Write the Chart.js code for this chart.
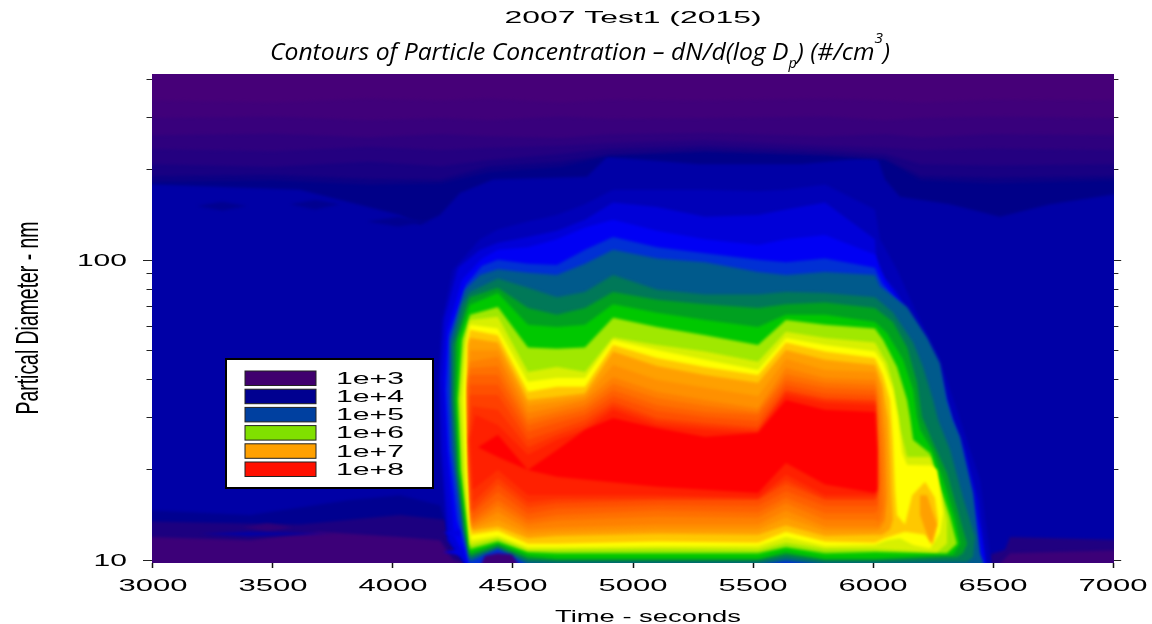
<!DOCTYPE html>
<html>
<head>
<meta charset="utf-8">
<title>2007 Test1 (2015)</title>
<script src="https://cdn.jsdelivr.net/npm/chart.js@4/dist/chart.umd.min.js"></script>
<style>
  body { margin: 0; background: #fff; }
  canvas { display: block; }
</style>
</head>
<body>
<canvas id="chart" width="1152" height="624"></canvas>
<script>
// Text
const titleLine = '2007 Test1 (2015)';
const subtitleParts = [
  ['Contours of Particle Concentration \u2013 dN/d(log D', 'body'],
  ['p', 'sub'],
  [') (#/cm', 'body'],
  ['3', 'sup'],
  [')', 'body']
];
const xAxisTitle = 'Time - seconds';
const yAxisTitle = 'Partical Diameter - nm';

// Axes
const xTicks = [3000, 3500, 4000, 4500, 5000, 5500, 6000, 6500, 7000];
const yTicks = [10, 20, 30, 40, 50, 60, 70, 80, 90, 100, 200, 300, 400];
const yLabelled = [10, 100];

// Legend
const legendLabels = ['1e+3', '1e+4', '1e+5', '1e+6', '1e+7', '1e+8'];
const legendColors = ['#40006e', '#000090', '#0040a0', '#80e000', '#ffa000', '#ff1000'];

// Background level of the whole field
const baseColor = '#0000a6';

// Dark ceiling of the plot: lower edge of each band, in nm
const navyTimes = [3000, 3612, 4029, 4112, 4196, 4279, 4417, 4808, 4892, 5279, 5696, 6017, 6050, 6112, 6321, 6529, 6738, 7000];
const navySizes = [178, 171, 141, 131, 141, 167, 185, 189, 220, 208, 208, 220, 185, 162, 153, 139, 153, 165];
const navyColor = '#000088';

const bandTimes = [3000, 3500, 3900, 4200, 4400, 4700, 4900, 5300, 5800, 6050, 6200, 6500, 7000];
const bandColors = ['#0c0084', '#180082', '#240080', '#2e007e', '#38007c', '#40007a', '#460078'];
const bandSizes = [
  [182, 184, 178, 180, 196, 204, 222, 228, 222, 215, 184, 180, 184],
  [190, 192, 186, 185, 205, 212, 225, 232, 225, 218, 190, 188, 190],
  [208, 204, 212, 205, 215, 225, 235, 240, 232, 225, 208, 206, 208],
  [234, 230, 238, 232, 236, 240, 245, 250, 240, 236, 232, 235, 232],
  [260, 263, 256, 262, 258, 255, 262, 265, 258, 262, 256, 262, 260],
  [297, 300, 292, 297, 292, 300, 295, 297, 300, 292, 297, 300, 297],
  [340, 335, 345, 340, 345, 335, 342, 340, 345, 340, 335, 342, 340]
];

// Low-count patches along the bottom edge, and a few blotches
const patchColors = ['#000090', '#1c0080', '#3c0078', '#200080', '#3c0078', '#000090', '#000090', '#000090', '#300078', '#0000a6'];
const patchTimes = [
  [2900, 3000, 3404, 3821, 4029, 4196, 4225, 4258, 4321, 4321, 2900],
  [2900, 3000, 3612, 4029, 4217, 4229, 4288, 4288, 2900],
  [2900, 3000, 3404, 3696, 4029, 4196, 4250, 4300, 4300, 2900],
  [6488, 6488, 6550, 6571, 7100, 7100],
  [6500, 6571, 7100, 7100],
  [3183, 3288, 3392, 3288],
  [3571, 3675, 3779, 3675],
  [3892, 4021, 4154, 4021],
  [3375, 3479, 3583, 3479],
  [3196, 3400, 3750, 3400]
];
const patchSizes = [
  [14.6, 14.6, 14.1, 15.8, 16.4, 15.2, 12.6, 11.2, 9.75, 9, 9],
  [13.4, 13.4, 13.1, 14.1, 13.6, 12.1, 10, 9, 9],
  [11.9, 11.9, 11.6, 12.4, 11.9, 11.6, 10, 9.75, 9, 9],
  [9.2, 10.4, 10.8, 11.9, 11.6, 9.2],
  [9.2, 10.5, 10.8, 9.2],
  [151, 156, 151, 146],
  [153, 158, 153, 147],
  [134, 139, 134, 129],
  [12.8, 13.2, 12.8, 12.4],
  [12.2, 12.4, 12.2, 12.0]
];

// Nested contour levels of the particle cloud, outermost first.
// Each level is walked round: wall (left side, bottom to top), ridge (top),
// edge (right side, top to bottom), floor (bottom, right to left).
const levelColors = [
  '#0000b8', '#0000d8', '#0000f4', '#0030d4', '#005a8c', '#007858', '#00a020', '#00c800', '#a0e800',
  '#d8f000', '#ffff00', '#ffc800', '#ffa000', '#ff9000', '#ff8000', '#ff7000', '#ff6000', '#ff5000',
  '#ff4000', '#ff3000', '#ff2000', '#ff0000'
];

const ridgeTimes = [4437, 4562, 4683, 4800, 4917, 5100, 5300, 5521, 5637, 5800, 6008];
const ridgeSizes = [
  [126, 134, 141, 153, 171, 171, 171, 169, 171, 178, 147],
  [114, 119, 125, 136, 155, 150, 139, 141, 147, 155, 117],
  [108, 110, 117, 128, 136, 125, 117, 112, 117, 121, 104],
  [100, 97, 96, 108, 119, 110, 105, 100, 98, 101, 94],
  [93, 90.5, 89, 97, 108, 101, 98, 91, 89, 91, 89],
  [86.5, 80.7, 75, 78, 89, 79.4, 76.5, 76.5, 78, 77.5, 75],
  [80.7, 69, 65.5, 69, 78, 73.6, 71, 69, 71, 72, 69],
  [77.5, 60.7, 59.7, 60.7, 71, 66.5, 63, 59.7, 65.5, 65.5, 62],
  [69.5, 51, 50.5, 51, 64, 59.7, 56, 52, 63, 60.7, 59],
  [64.5, 42.2, 43.9, 42.2, 55, 52, 49.4, 45.7, 57.5, 54.8, 53],
  [59, 39.2, 40.3, 40.3, 54, 50, 46.4, 42.9, 54.8, 52, 49.4],
  [56, 36.3, 37.7, 37.7, 52, 47, 43.9, 41.3, 53, 49.4, 47],
  [53, 34.1, 34.9, 35.9, 49.4, 44.2, 41.3, 38.9, 50, 46.4, 44.6],
  [49.9, 32.6, 33.6, 34.9, 44.6, 39.8, 37.4, 35.1, 46.7, 42.9, 42.2],
  [47.5, 30.9, 32.3, 34.1, 40.6, 36.3, 34.1, 32, 43.6, 40.3, 39.8],
  [44.2, 29.4, 31.1, 32.8, 38.6, 34.6, 32.6, 31.1, 41.6, 38.9, 38.3],
  [41.3, 28.1, 29.9, 31.6, 36.8, 32.8, 31.1, 30.4, 39.8, 37.4, 36.8],
  [38.3, 26.7, 28.6, 30.4, 35.1, 31.3, 29.9, 29, 38.3, 35.9, 35.4],
  [35.4, 25.1, 27.1, 29.2, 33.6, 29.7, 28.6, 27.7, 36.8, 34.6, 34.1],
  [31.6, 23.7, 26.1, 28.1, 32.6, 29, 27.9, 27.1, 36.3, 34.1, 33.6],
  [28.1, 22.4, 25.1, 27.1, 31.6, 28.1, 27.1, 26.5, 35.4, 33.3, 32.8],
  [26.1, 19.9, 23.2, 27.1, 29.7, 27.5, 25.7, 26.5, 34.1, 31.6, 31.1]
];

const floorTimes = [6008, 5800, 5637, 5521, 5100, 4683, 4562, 4437];
const floorSizes = [
  [9.2, 9.2, 9.2, 9.2, 9.2, 9.2, 9.2, 9.2],
  [9.2, 9.2, 9.2, 9.2, 9.2, 9.2, 9.2, 9.2],
  [9.2, 9.2, 9.2, 9.2, 9.2, 9.2, 9.2, 9.2],
  [9.2, 9.2, 9.2, 9.2, 9.2, 9.2, 9.2, 9.2],
  [9.6, 9.6, 9.9, 9.6, 9.6, 9.6, 9.6, 10.85],
  [9.75, 9.75, 10.1, 9.75, 9.75, 9.75, 9.85, 11],
  [10, 10, 10.4, 10, 10, 10, 10.1, 11.1],
  [10.1, 10.1, 10.6, 10.1, 10.1, 10.1, 10.3, 11.3],
  [10.6, 10.5, 11, 10.5, 10.5, 10.5, 10.6, 11.5],
  [10.85, 10.85, 11.4, 10.8, 10.85, 10.8, 10.8, 11.8],
  [11.2, 11.1, 11.9, 11.1, 11.1, 11, 11, 12],
  [11.4, 11.5, 12.4, 11.4, 11.5, 11.3, 11.3, 12.5],
  [12.1, 12, 13, 12.1, 12.2, 12, 11.8, 12.9],
  [12.5, 12.5, 13.8, 12.6, 12.6, 12.4, 12.2, 13.6],
  [12.9, 12.9, 14.6, 13.1, 13.1, 12.8, 12.6, 14.4],
  [13.6, 13.6, 15.4, 13.8, 13.9, 13.5, 13.1, 15.1],
  [14.3, 14.3, 16.1, 14.4, 14.6, 14.1, 13.6, 15.8],
  [15.1, 15.1, 16.9, 15.1, 15.2, 14.8, 14.2, 16.8],
  [15.8, 15.8, 17.8, 15.8, 15.8, 15.4, 14.9, 17.8],
  [16, 16, 18.4, 16, 16, 15.9, 15.5, 18.7],
  [16.4, 16.4, 19.2, 16.1, 16.4, 16.4, 16.4, 19.9],
  [16.7, 17.8, 21, 16.7, 17.5, 18.9, 19.9, 22]
];

const wallTimes = [
  [4321, 4225, 4196, 4188, 4204, 4250, 4363],
  [4321, 4233, 4204, 4196, 4213, 4271, 4363],
  [4321, 4254, 4225, 4213, 4225, 4288, 4371],
  [4321, 4267, 4233, 4221, 4233, 4304, 4371],
  [4321, 4288, 4246, 4238, 4238, 4300, 4363],
  [4321, 4296, 4263, 4246, 4246, 4288, 4321],
  [4321, 4300, 4271, 4254, 4258, 4300, 4321],
  [4321, 4304, 4275, 4263, 4271, 4321],
  [4321, 4313, 4283, 4271, 4288, 4321],
  [4321, 4292, 4279, 4300, 4321],
  [4325, 4304, 4292, 4304, 4321],
  [4325, 4313, 4304, 4313, 4321],
  [4329, 4321, 4313, 4313, 4321],
  [4329, 4317, 4313, 4321],
  [4329, 4317, 4313, 4321],
  [4329, 4317, 4313, 4321],
  [4329, 4317, 4313, 4321],
  [4329, 4317, 4321],
  [4329, 4317, 4321],
  [4333, 4319, 4330],
  [4333, 4321, 4342],
  [4354]
];
const wallSizes = [
  [9.2, 11.6, 23.2, 39.8, 63, 92.6, 117],
  [9.2, 11.6, 23.2, 39.8, 63, 94, 108],
  [9.2, 12.1, 23.2, 39.8, 58.4, 85.8, 101],
  [9.4, 13.6, 23.2, 36.8, 56.2, 82.5, 95.5],
  [9.85, 12.6, 23.2, 34.1, 54.1, 79.4, 89],
  [10.1, 12.6, 19.9, 34.1, 52, 70.8, 78],
  [10.3, 12.6, 19.9, 34.1, 52, 68.1, 75],
  [10.5, 12.6, 19.9, 34.1, 54.1, 70.8],
  [10.85, 12.6, 19.9, 34.1, 54.1, 65.5],
  [11.2, 19.9, 34.1, 54.1, 63],
  [11.6, 18.4, 34.1, 52, 60.7],
  [12.1, 18.4, 34.1, 54.1, 58.4],
  [12.5, 19.9, 34.1, 52, 54.8],
  [12.7, 19.9, 36.8, 49.9],
  [12.9, 19.9, 39.8, 45.7],
  [13.2, 20.7, 38.3, 43.5],
  [13.6, 21.5, 36.8, 41.3],
  [14.2, 23, 38.3],
  [14.6, 25.1, 35.4],
  [15.5, 25.1, 32.5],
  [17.1, 25.1, 30.4],
  [23.7]
];

const edgeTimes = [
  [6029, 6100, 6175, 6279, 6363, 6446, 6496],
  [6017, 6092, 6217, 6300, 6383, 6438, 6475],
  [6050, 6175, 6279, 6342, 6404, 6446, 6471],
  [6038, 6133, 6217, 6271, 6300, 6325, 6354, 6408, 6438, 6454],
  [6029, 6142, 6225, 6279, 6308, 6333, 6363, 6417, 6446, 6463],
  [6083, 6167, 6208, 6250, 6271, 6321, 6375, 6425, 6417, 6392],
  [6083, 6142, 6183, 6204, 6250, 6308, 6363, 6392, 6375, 6350],
  [6058, 6125, 6167, 6183, 6196, 6246, 6292, 6342, 6363, 6333],
  [6042, 6100, 6142, 6154, 6167, 6238, 6279, 6321, 6350, 6308],
  [6058, 6083, 6113, 6142, 6238, 6267, 6308, 6308, 6267],
  [6042, 6083, 6104, 6121, 6142, 6242, 6267, 6292, 6279, 6238, 6167, 6113, 6058],
  [6042, 6071, 6083, 6092, 6100, 6133, 6163, 6217, 6258, 6271, 6250, 6217, 6133, 6092, 6050],
  [6038, 6063, 6071, 6075, 6083, 6071, 6038],
  [6033, 6050, 6058, 6050, 6029],
  [6029, 6046, 6054, 6046, 6021],
  [6025, 6038, 6042, 6025],
  [6021, 6029, 6021],
  [6017, 6025, 6017],
  [6013, 6017],
  [6015, 6015],
  [6013, 6013],
  [6017, 6017]
];
const edgeSizes = [
  [117, 92.6, 68.1, 46.4, 29.2, 18.4, 9.2],
  [92.6, 79.4, 54.1, 34.1, 23.2, 15.8, 9.2],
  [85.8, 60.7, 41.3, 27.1, 17.1, 12.6, 9.2],
  [83.4, 68.1, 54.1, 43.6, 34.1, 29.2, 25.6, 16.7, 10.5, 9.4],
  [81.5, 69.5, 55, 45.2, 34.1, 29.2, 25.6, 16.7, 10.5, 9.6],
  [66.7, 53, 43.9, 34.1, 29.2, 23.2, 16.1, 11.9, 10.2, 9.85],
  [62, 51, 39, 29.9, 24.5, 19.4, 13.6, 11.3, 10.5, 10.2],
  [57, 46.4, 36.8, 29.9, 27.1, 23.2, 18.4, 13.6, 11.3, 10.4],
  [54.1, 43.9, 34.1, 29.9, 25.1, 22.6, 17.5, 13.9, 11.3, 10.5],
  [45.2, 38.3, 27.1, 22, 22, 18.4, 13.6, 11.3, 10.6],
  [45.2, 36.8, 29.9, 22.7, 20.7, 20.6, 19.9, 14.3, 12.3, 10.9, 11.2, 11.8, 11.6],
  [41.3, 34.1, 25.1, 17.1, 14.1, 13.1, 16.4, 18.2, 16.1, 13.6, 11.2, 12.1, 12.4, 12.1, 11.8],
  [38.3, 29.2, 21.5, 17.1, 13.6, 12.6, 12.1],
  [36.8, 27, 16.5, 13.4, 12.6],
  [34.1, 25.1, 15.8, 13.6, 12.8],
  [31.6, 22, 15, 13.4],
  [29.2, 18.4, 14.6],
  [27, 18, 15.2],
  [25.1, 17.1],
  [24, 16.5],
  [23.2, 17.8],
  [23.2, 17.1]
];

// Orange island right of the main cloud
const islandTimes = [6196, 6225, 6246, 6267, 6242, 6217, 6196];
const islandSizes = [16.4, 16.4, 14.6, 13.1, 11.3, 12.6, 14.1];
const islandColor = '#ffa000';

// Low-count dome under the first ridge
const domeTimes = [4363, 4383, 4437, 4496, 4529];
const domeSizes = [9.5, 10.3, 10.5, 10.4, 9.5];
const domeColor = '#3c0078';

// Blue spikes on the foot of the left wall
const spikeTimes = [[4208, 4279, 4279], [4208, 4292, 4292]];
const spikeSizes = [[12.3, 12.6, 11.9], [10.6, 10.9, 10.3]];
const spikeColor = '#0000e0';

function zip(times, sizes) {
  return times.map((t, i) => ({ x: t, y: sizes[i] }));
}

function shape(points, color) {
  return {
    data: points,
    showLine: true,
    fill: 'shape',
    backgroundColor: color,
    borderWidth: 0,
    pointRadius: 0,
    tension: 0
  };
}

// Ceiling band: the line plus the two top corners
function ceiling(times, sizes, color) {
  return shape([{ x: 2900, y: 600 }, { x: 2900, y: sizes[0] }, ...zip(times, sizes),
    { x: 7100, y: sizes[sizes.length - 1] }, { x: 7100, y: 600 }], color);
}

function level(i) {
  const points = [
    ...zip(wallTimes[i], wallSizes[i]),
    ...zip(ridgeTimes, ridgeSizes[i]),
    ...zip(edgeTimes[i], edgeSizes[i]),
    ...zip(floorTimes, floorSizes[i])
  ];
  return shape(points, levelColors[i]);
}

const datasets = [
  shape(zip([2900, 7100, 7100, 2900], [600, 600, 9, 9]), baseColor),
  ceiling(navyTimes, navySizes, navyColor),
  ...bandColors.map((c, i) => ceiling(bandTimes, bandSizes[i], c)),
  ...patchColors.map((c, i) => shape(zip(patchTimes[i], patchSizes[i]), c)),
  ...levelColors.map((c, i) => level(i)),
  shape(zip(islandTimes, islandSizes), islandColor),
  shape(zip(domeTimes, domeSizes), domeColor),
  ...spikeTimes.map((t, i) => shape(zip(t, spikeSizes[i]), spikeColor))
];
// painter's order: later entries go on top
datasets.forEach((d, i) => { d.order = datasets.length - i; });

// Text squeezed or stretched to a given width, the way the original was resized
function fitText(ctx, text, font, x, y, width, align, angle) {
  ctx.save();
  ctx.font = font;
  ctx.fillStyle = '#000';
  ctx.textAlign = 'left';
  ctx.textBaseline = 'alphabetic';
  const natural = ctx.measureText(text).width;
  ctx.translate(x, y);
  if (angle) ctx.rotate(angle);
  ctx.scale(width / natural, 1);
  const start = align === 'center' ? -natural / 2 : align === 'right' ? -natural : 0;
  ctx.fillText(text, start, 0);
  ctx.restore();
}

const wideFont = '17px "Liberation Sans"';

function drawSubtitle(ctx) {
  const fonts = {
    body: 'italic 24px "Open Sans"',
    sub: 'italic 14px "Open Sans"',
    sup: 'italic 15px "Open Sans"'
  };
  const rise = { body: 0, sub: 8, sup: -17 };
  ctx.save();
  ctx.fillStyle = '#000';
  ctx.textAlign = 'left';
  ctx.textBaseline = 'alphabetic';
  let natural = 0;
  subtitleParts.forEach(([text, kind]) => {
    ctx.font = fonts[kind];
    natural += ctx.measureText(text).width;
  });
  ctx.translate(270, 60);
  ctx.scale(620 / natural, 1);
  let x = 0;
  subtitleParts.forEach(([text, kind]) => {
    ctx.font = fonts[kind];
    ctx.fillText(text, x, rise[kind]);
    x += ctx.measureText(text).width;
  });
  ctx.restore();
}

const dressing = {
  id: 'dressing',
  // soften the contour steps, the source image was resampled
  beforeDatasetsDraw(chart) {
    chart.ctx.save();
    chart.ctx.filter = 'blur(1.6px)';
  },
  afterDatasetsDraw(chart) {
    chart.ctx.restore();
  },
  afterDraw(chart) {
    const ctx = chart.ctx;
    const area = chart.chartArea;
    const xs = chart.scales.x;
    const ys = chart.scales.y;

    // y tick marks, both sides
    ctx.save();
    ctx.strokeStyle = '#222';
    ctx.lineWidth = 1;
    yTicks.forEach(v => {
      const y = Math.round(ys.getPixelForValue(v)) + 0.5;
      const len = yLabelled.includes(v) ? 9 : 5.5;
      ctx.beginPath();
      ctx.moveTo(area.left - len, y);
      ctx.lineTo(area.left, y);
      ctx.moveTo(area.right, y);
      ctx.lineTo(area.right + len * 0.8, y);
      ctx.stroke();
    });
    ctx.restore();

    // tick labels
    xTicks.forEach(v => fitText(ctx, String(v), wideFont, xs.getPixelForValue(v), 591, 69, 'center'));
    yLabelled.forEach(v => {
      const label = String(v);
      fitText(ctx, label, wideFont, 127, ys.getPixelForValue(v) + 6, label.length * 16.7, 'right');
    });

    // axis titles
    fitText(ctx, xAxisTitle, wideFont, 648, 622, 186, 'center');
    fitText(ctx, yAxisTitle, '31px "Liberation Sans"', 38, 318, 193, 'center', -Math.PI / 2);

    // titles
    fitText(ctx, titleLine, wideFont, 633, 23, 257, 'center');
    drawSubtitle(ctx);

    // legend
    ctx.save();
    ctx.fillStyle = '#fff';
    ctx.fillRect(226, 359, 207, 129);
    ctx.strokeStyle = '#000';
    ctx.lineWidth = 2;
    ctx.strokeRect(226, 359, 207, 129);
    legendLabels.forEach((label, i) => {
      const top = 371 + i * 18.2;
      ctx.fillStyle = legendColors[i];
      ctx.fillRect(245, top, 71, 14.5);
      ctx.strokeStyle = '#222';
      ctx.lineWidth = 1;
      ctx.strokeRect(245, top, 71, 14.5);
      fitText(ctx, label, wideFont, 336, top + 12.8, 68, 'left');
    });
    ctx.restore();
  }
};

new Chart(document.getElementById('chart'), {
  type: 'scatter',
  data: { datasets },
  plugins: [dressing],
  options: {
    responsive: false,
    animation: false,
    layout: { autoPadding: false, padding: { top: 74, right: 38, left: 0, bottom: 0 } },
    plugins: { legend: { display: false }, tooltip: { enabled: false } },
    scales: {
      x: {
        type: 'linear',
        min: 2996,
        max: 7004,
        afterBuildTicks: s => { s.ticks = xTicks.map(v => ({ value: v })); },
        afterFit: s => { s.height = 61; },
        ticks: { display: false },
        border: { display: false },
        grid: { drawOnChartArea: false, tickLength: 5, tickColor: '#111', tickWidth: 1.5 }
      },
      y: {
        type: 'logarithmic',
        min: 9.75,
        max: 416,
        afterBuildTicks: s => { s.ticks = yTicks.map(v => ({ value: v })); },
        afterFit: s => { s.width = 152; },
        ticks: { display: false },
        border: { display: false },
        grid: { display: false }
      }
    }
  }
});
</script>
</body>
</html>
